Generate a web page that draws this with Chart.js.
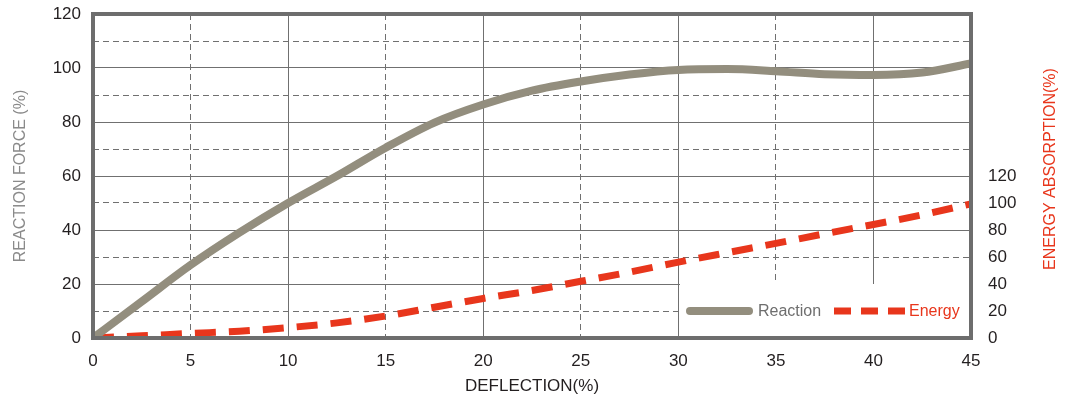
<!DOCTYPE html>
<html>
<head>
<meta charset="utf-8">
<script src="https://cdn.jsdelivr.net/npm/chart.js@4/dist/chart.umd.min.js"></script>
<style>
  html, body { margin: 0; padding: 0; background: #fff; }
  #wrap { width: 1070px; height: 397px; }
</style>
</head>
<body>
<div id="wrap"><canvas id="c" width="1070" height="397"></canvas></div>
<script>
// ---- data ----
const deflection = [0, 2.5, 5, 7.5, 10, 12.5, 15, 17.5, 20, 22.5, 25, 27.5, 30, 32.5, 35, 37.5, 40, 42.5, 45];
const reaction   = [0, 13.5, 27, 39, 50, 60, 70.5, 79.8, 86.5, 91.6, 95, 97.6, 99.3, 99.6, 98.8, 97.7, 97.4, 98.3, 101.7];
const energy     = [0, 1.6, 3.4, 5.0, 7.7, 11.2, 16.3, 22.8, 29.3, 35.2, 42, 48.8, 56.2, 63.2, 70.1, 77.2, 84.1, 91.2, 99.4];
const xTicks = [0, 5, 10, 15, 20, 25, 30, 35, 40, 45];
const xDashed = [5, 15, 25, 35];
const leftTicks = [0, 20, 40, 60, 80, 100, 120];
const leftDashed = [10, 30, 50, 70, 90, 110];
const rightTicks = [0, 20, 40, 60, 80, 100, 120];
const seriesNames = ['Reaction', 'Energy'];
const axisTitles = { x: 'DEFLECTION(%)', left: 'REACTION FORCE (%)', right: 'ENERGY ABSORPTION(%)' };

const FONT = "'Liberation Sans', Arial, sans-serif";
const GRID = '#707070';
const GREY_LINE = '#938e7e';
const RED = '#e8361c';

const toPts = ys => deflection.map((x, i) => ({ x: x, y: ys[i] }));

const decorPlugin = {
  id: 'decor',
  afterDatasetsDraw(chart) {
    const ctx = chart.ctx, a = chart.chartArea;
    const ds = chart.data.datasets;
    ctx.save();
    // legend box inside plot
    ctx.fillStyle = '#ffffff';
    ctx.fillRect(a.right - 291, a.bottom - 54, 291, 54);
    const ly = a.bottom - 27;
    // reaction sample
    ctx.strokeStyle = ds[0].borderColor;
    ctx.lineWidth = 8;
    ctx.lineCap = 'round';
    ctx.beginPath();
    ctx.moveTo(a.right - 281, ly);
    ctx.lineTo(a.right - 222, ly);
    ctx.stroke();
    ctx.font = '16px ' + FONT;
    ctx.textBaseline = 'middle';
    ctx.textAlign = 'left';
    ctx.fillStyle = '#6e6e6e';
    ctx.fillText(ds[0].label, a.right - 213, ly + 1);
    // energy sample
    ctx.strokeStyle = ds[1].borderColor;
    ctx.lineWidth = 7;
    ctx.lineCap = 'butt';
    ctx.setLineDash([17, 10]);
    ctx.beginPath();
    ctx.moveTo(a.right - 137, ly);
    ctx.lineTo(a.right - 66, ly);
    ctx.stroke();
    ctx.setLineDash([]);
    ctx.fillStyle = ds[1].borderColor;
    ctx.fillText(ds[1].label, a.right - 62, ly + 1);
    // frame
    ctx.strokeStyle = '#6d6d6d';
    ctx.lineWidth = 4;
    ctx.strokeRect(a.left, a.top, a.right - a.left, a.bottom - a.top);
    // right axis title (reads bottom-to-top)
    ctx.translate(1051, 169);
    ctx.rotate(-Math.PI / 2);
    ctx.textAlign = 'center';
    ctx.font = '16px ' + FONT;
    ctx.fillStyle = RED;
    ctx.fillText(axisTitles.right, 0, 0);
    ctx.restore();
  }
};

const tickFont = { family: FONT, size: 17 };
const noPadV = w => s => { s.width = w; s.paddingTop = 0; s.paddingBottom = 0; };
const noPadH = h => s => { s.height = h; s.paddingLeft = 0; s.paddingRight = 0; };

new Chart(document.getElementById('c'), {
  type: 'line',
  data: {
    datasets: [
      {
        label: seriesNames[0],
        data: toPts(reaction),
        borderColor: GREY_LINE,
        borderWidth: 8,
        pointRadius: 0,
        cubicInterpolationMode: 'monotone',
        borderCapStyle: 'round',
        yAxisID: 'y',
        xAxisID: 'x'
      },
      {
        label: seriesNames[1],
        data: toPts(energy),
        borderColor: RED,
        borderWidth: 7,
        borderDash: [21, 13],
        pointRadius: 0,
        cubicInterpolationMode: 'monotone',
        borderCapStyle: 'butt',
        yAxisID: 'y2',
        xAxisID: 'x'
      }
    ]
  },
  options: {
    responsive: false,
    animation: false,
    layout: { padding: { top: 14, left: 0, right: 0, bottom: 0 } },
    plugins: { legend: { display: false }, tooltip: { enabled: false } },
    scales: {
      x: {
        type: 'linear', position: 'bottom', min: 0, max: 45,
        afterBuildTicks: s => { s.ticks = xTicks.map(v => ({ value: v })); },
        afterFit: noPadH(59),
        grid: {
          drawTicks: false,
          color: c => (c.tick && c.tick.value % 10 === 0 && c.tick.value > 0 && c.tick.value < 45) ? GRID : 'rgba(0,0,0,0)'
        },
        border: { display: false },
        ticks: { font: tickFont, color: '#231f20', padding: 13, maxRotation: 0, autoSkip: false },
        title: { display: true, text: axisTitles.x, font: { family: FONT, size: 17 }, color: '#231f20', padding: { top: 0, bottom: 0 } }
      },
      xd: {
        type: 'linear', position: 'bottom', min: 0, max: 45,
        afterBuildTicks: s => { s.ticks = xDashed.map(v => ({ value: v })); },
        afterFit: noPadH(0),
        grid: { drawTicks: false, color: GRID, lineWidth: 1 },
        border: { display: false, dash: [6, 4] },
        ticks: { display: false }
      },
      y: {
        type: 'linear', position: 'left', min: 0, max: 120,
        afterBuildTicks: s => { s.ticks = leftTicks.map(v => ({ value: v })); },
        afterFit: noPadV(93),
        grid: {
          drawTicks: false,
          color: c => (c.tick && c.tick.value > 0 && c.tick.value < 120) ? GRID : 'rgba(0,0,0,0)'
        },
        border: { display: false },
        ticks: { font: tickFont, color: '#231f20', padding: 12 },
        title: { display: true, text: axisTitles.left, font: { family: FONT, size: 16 }, color: '#8a8a8a', padding: { top: 11, bottom: 0 } }
      },
      yd: {
        type: 'linear', position: 'left', min: 0, max: 120,
        afterBuildTicks: s => { s.ticks = leftDashed.map(v => ({ value: v })); },
        afterFit: noPadV(0),
        grid: { drawTicks: false, color: GRID, lineWidth: 1 },
        border: { display: false, dash: [6, 4] },
        ticks: { display: false }
      },
      y2: {
        type: 'linear', position: 'right', min: 0, max: 240,
        afterBuildTicks: s => { s.ticks = rightTicks.map(v => ({ value: v })); },
        afterFit: noPadV(99),
        grid: { drawOnChartArea: false, drawTicks: false },
        border: { display: false },
        ticks: { font: tickFont, color: '#231f20', padding: 17 }
      }
    }
  },
  plugins: [decorPlugin]
});
</script>
</body>
</html>
